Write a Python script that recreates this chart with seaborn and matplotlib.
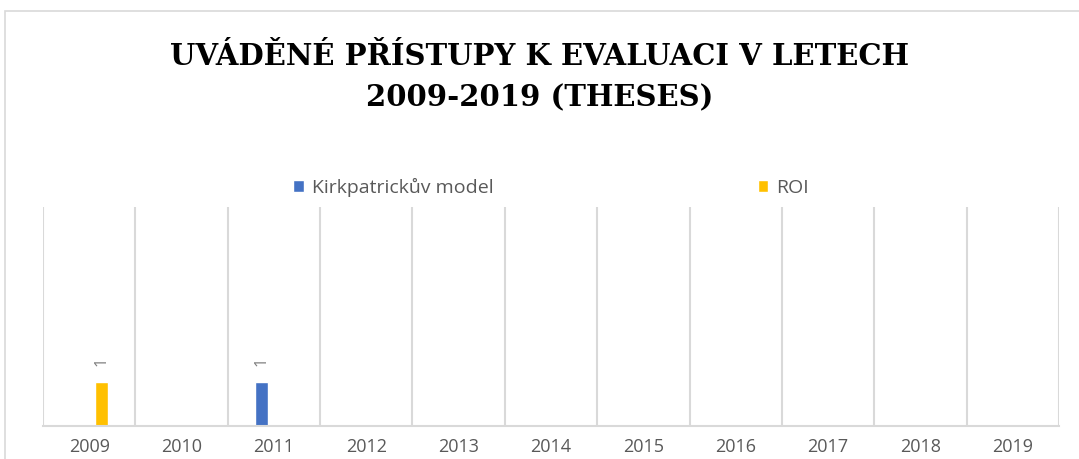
import matplotlib
matplotlib.use('Agg')
import matplotlib.pyplot as plt
import pandas as pd
import seaborn as sns
from matplotlib.patches import Rectangle

years = ['2009', '2010', '2011', '2012', '2013', '2014', '2015', '2016', '2017', '2018', '2019']
kirkpatrick = [0, 0, 1, 0, 0, 0, 0, 0, 0, 0, 0]
roi = [1, 0, 0, 0, 0, 0, 0, 0, 0, 0, 0]
series_names = ['Kirkpatrickův model', 'ROI']
colors = ['#4472C4', '#FFC000']

df = pd.DataFrame({'year': years, series_names[0]: kirkpatrick, series_names[1]: roi})
df = df.melt(id_vars='year', var_name='series', value_name='count')

sns.set_style('white')
plt.rcParams['font.family'] = ['Open Sans', 'DejaVu Sans']

fig = plt.figure(figsize=(10.79, 4.59), dpi=100)
ax = fig.add_axes([43 / 1079, 33 / 459, 1016 / 1079, 219 / 459])

sns.barplot(data=df, x='year', y='count', hue='series', order=years,
            hue_order=series_names, palette=colors, width=0.52, gap=0.46,
            ax=ax, errorbar=None, saturation=1)

# data labels only on non-zero bars
for cont in ax.containers:
    labels = [f'{b.get_height():.0f}' if b.get_height() > 0 else '' for b in cont]
    ax.bar_label(cont, labels=labels, rotation=90, padding=12, color='#7f7f7f', fontsize=12)

ax.set_ylim(0, 5)
ax.set_xlim(-0.5, len(years) - 0.5)
ax.set_yticks([])
ax.set_xlabel('')
ax.set_ylabel('')
for s in ['top', 'right', 'left']:
    ax.spines[s].set_visible(False)
ax.spines['bottom'].set_color('#d9d9d9')
ax.spines['bottom'].set_linewidth(1.5)

# vertical gridlines between categories
for i in range(len(years) + 1):
    ax.axvline(i - 0.5, color='#d9d9d9', linewidth=1.5, zorder=0)

ax.tick_params(axis='x', length=0, pad=9, labelsize=13, labelcolor='#595959')

leg = ax.legend(loc='center', bbox_to_anchor=(0.5, 1.09), ncol=2, frameon=False,
                fontsize=14, handlelength=0.55, handleheight=0.55, handletextpad=0.4,
                columnspacing=13.6)
for t in leg.get_texts():
    t.set_color('#595959')

fig.text(0.5, 0.832, 'UVÁDĚNÉ PŘÍSTUPY K EVALUACI V LETECH\n2009-2019 (THESES)',
         ha='center', va='center', fontsize=21, fontweight='bold',
         family='DejaVu Serif', linespacing=1.55, color='#000000')

# chart border
fig.patches.append(Rectangle((5 / 1079, -0.1), 1.2, (459 - 11) / 459 + 0.1,
                             transform=fig.transFigure, fill=False,
                             edgecolor='#d9d9d9', linewidth=1.2))

fig.savefig('out.png', dpi=100)
